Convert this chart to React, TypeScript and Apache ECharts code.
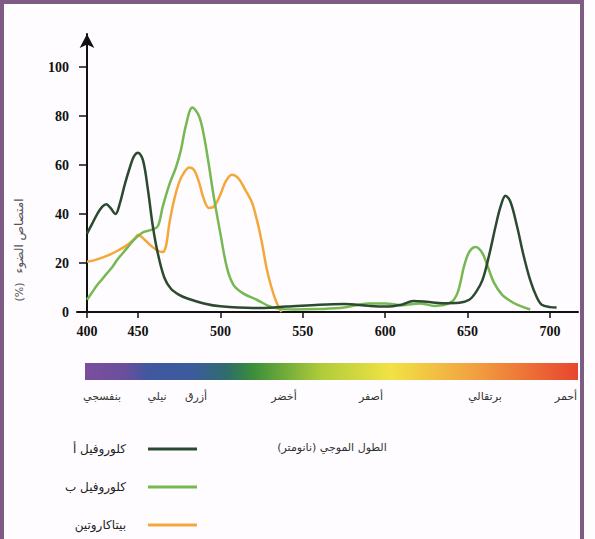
import React, { useEffect, useRef } from "react";
import * as echarts from "echarts";

const seriesNames = ["كلوروفيل أ", "كلوروفيل ب", "بيتاكاروتين"];
const seriesColors = ["#2c4a30", "#76b852", "#f4a73a"];

const chlAWave = [400, 405, 410, 415, 419, 423, 428, 432, 437, 442, 446, 450, 453, 456, 459, 462, 466, 470, 475, 480, 490, 500, 520, 540, 560, 575, 590, 600, 610, 617, 625, 635, 645, 651, 655, 659, 663, 667, 670, 673, 676, 680, 684, 688, 692, 695, 700, 704];
const chlAAbs = [32, 36, 40, 43, 44, 42.5, 40, 44, 52, 59, 63.5, 65, 62, 50, 35, 24, 14, 9.5, 7, 5.5, 3.5, 2.3, 1.6, 2.2, 3, 3.3, 2.5, 2.2, 3, 4.5, 4.2, 3.6, 3.8, 5, 8, 13, 23, 35, 43, 47.5, 45, 35, 23, 13, 6, 3, 2, 1.8];

const chlBWave = [400, 405, 410, 415, 420, 425, 430, 435, 440, 445, 450, 453, 458, 462, 465, 469, 473, 476, 479, 483, 487, 490, 493, 496, 500, 504, 508, 514, 522, 532, 545, 560, 575, 590, 600, 610, 621, 630, 640, 644, 648, 651, 655, 659, 662, 666, 671, 676, 680, 688];
const chlBAbs = [5, 8, 11, 13.5, 16, 18.5, 21.5, 24, 26.5, 29, 31, 32.5, 33.5, 35, 43, 52, 59, 66, 76, 83.5, 80, 72, 60, 47, 32, 18, 11, 7.5, 5, 1.8, 1, 1.2, 1.8, 3.5, 3.5, 2.8, 3.5, 2.5, 4, 8, 19, 24.5, 26.5, 24, 19, 12, 7, 4.5, 3, 1];

const caroWave = [400, 410, 420, 430, 440, 447, 450, 454, 458, 462, 465, 467, 469, 472, 475, 478, 481, 484, 487, 490, 493, 496, 500, 503, 507, 511, 515, 519, 522, 525, 528, 531, 534, 537];
const caroAbs = [20.5, 21.5, 23, 25, 27.5, 30, 31.5, 29.5, 27, 25, 24.5, 27, 36, 46, 53, 57, 59, 58, 53, 46, 42.5, 43, 48, 53, 56, 54.5, 50, 45, 38, 29, 18, 10, 4, 0];

const xTicks = [400, 450, 500, 550, 600, 650, 700];
const yTicks = [0, 20, 40, 60, 80, 100];
const spectrumNames = ["بنفسجي", "نيلي", "أزرق", "أخضر", "أصفر", "برتقالي", "أحمر"];
const yAxisTitleWords = "امتصاص الضوء";
const yAxisTitleUnit = "(%)";
const xAxisTitle = "الطول الموجي (نانومتر)";

// the reference axis compresses the 400-450 segment
const K = 51 / 82.4;
const toU = (w: number) => (w >= 450 ? w : 450 - (450 - w) * K);
const fromU = (u: number) => (u >= 450 ? u : 450 - (450 - u) / K);

const spectrumX = [102, 157, 196, 284, 371, 485, 566];
const legendY = [449, 487, 525];

export default function App() {
  const ref = useRef<HTMLDivElement>(null);
  useEffect(() => {
    if (!ref.current) return;
    const chart = echarts.init(ref.current, null, { renderer: "svg" });
    const waves = [chlAWave, chlBWave, caroWave];
    const abs = [chlAAbs, chlBAbs, caroAbs];
    const order = [2, 1, 0];
    const series = order.map((i) => ({
      type: "line",
      name: seriesNames[i],
      data: waves[i].map((w, j) => [toU(w), abs[i][j]]),
      symbol: "none",
      showSymbol: false,
      smooth: 0.35,
      lineStyle: { width: 2.5, color: seriesColors[i] },
      itemStyle: { color: seriesColors[i] },
      z: 3,
    }));

    const arabicFont = "DejaVu Sans";
    const graphics: any[] = [
      {
        type: "rect",
        shape: { x: 2, y: 2, width: 580, height: 560 },
        style: { fill: "none", stroke: "#7d5b83", lineWidth: 4 },
        z: 100,
      },
      {
        type: "rect",
        shape: { x: 85, y: 363, width: 493, height: 17 },
        style: {
          fill: new echarts.graphic.LinearGradient(0, 0, 1, 0, [
            { offset: 0, color: "#7b4e9e" },
            { offset: 0.08, color: "#6a4f9c" },
            { offset: 0.13, color: "#3f58a0" },
            { offset: 0.22, color: "#3c5b9c" },
            { offset: 0.29, color: "#2f6e6a" },
            { offset: 0.34, color: "#3a8e3a" },
            { offset: 0.48, color: "#b0cc3a" },
            { offset: 0.62, color: "#f2e244" },
            { offset: 0.79, color: "#f2a040" },
            { offset: 1, color: "#e8452e" },
          ]),
        },
      },
      {
        type: "text",
        x: 19,
        y: 236,
        rotation: Math.PI / 2,
        style: {
          text: yAxisTitleWords,
          fontSize: 12,
          fontFamily: arabicFont,
          fill: "#555",
          align: "center",
          verticalAlign: "middle",
        },
      },
      {
        type: "text",
        x: 19,
        y: 292,
        rotation: Math.PI / 2,
        style: {
          text: yAxisTitleUnit,
          fontSize: 11,
          fontFamily: arabicFont,
          fill: "#555",
          align: "center",
          verticalAlign: "middle",
        },
      },
      {
        type: "text",
        x: 332,
        y: 447,
        style: {
          text: xAxisTitle,
          fontSize: 11,
          fontFamily: arabicFont,
          fill: "#333",
          align: "center",
          verticalAlign: "middle",
        },
      },
    ];
    spectrumNames.forEach((n, i) => {
      graphics.push({
        type: "text",
        x: spectrumX[i],
        y: 396,
        style: {
          text: n,
          fontSize: 11,
          fontFamily: arabicFont,
          fill: "#333",
          align: "center",
          verticalAlign: "middle",
        },
      });
    });
    seriesNames.forEach((n, i) => {
      graphics.push({
        type: "text",
        x: 126,
        y: legendY[i],
        style: {
          text: n,
          fontSize: 12,
          fontFamily: arabicFont,
          fill: "#222",
          align: "right",
          verticalAlign: "middle",
        },
      });
      graphics.push({
        type: "line",
        shape: { x1: 148, y1: legendY[i], x2: 197, y2: legendY[i] },
        style: { stroke: seriesColors[i], lineWidth: 3 },
      });
    });

    const uTicks = xTicks.map(toU);
    chart.setOption({
      animation: false,
      backgroundColor: "#fefcfe",
      grid: { left: 77, right: 17, top: 34, bottom: 227, containLabel: false },
      xAxis: {
        type: "value",
        min: toU(400) - 6.07,
        max: 717,
        splitLine: { show: false },
        axisLine: { lineStyle: { color: "#111", width: 2 } },
        axisTick: {
          show: true,
          customValues: uTicks,
          length: 6,
          lineStyle: { color: "#111", width: 1.5 },
        },
        axisLabel: {
          customValues: uTicks,
          formatter: (v: number) => String(Math.round(fromU(v))),
          fontFamily: "Liberation Serif",
          fontWeight: "bold",
          fontSize: 14,
          color: "#111",
          margin: 12,
        },
      },
      yAxis: {
        type: "value",
        min: 0,
        max: 113.5,
        offset: -10,
        splitLine: { show: false },
        axisLine: {
          show: true,
          symbol: ["none", "arrow"],
          symbolSize: [11, 14],
          lineStyle: { color: "#111", width: 2 },
        },
        axisTick: {
          show: true,
          customValues: yTicks,
          length: 8,
          lineStyle: { color: "#111", width: 1.5 },
        },
        axisLabel: {
          customValues: yTicks,
          fontFamily: "Liberation Serif",
          fontWeight: "bold",
          fontSize: 14,
          color: "#111",
          margin: 18,
        },
      },
      series,
      graphic: graphics,
    });
    return () => chart.dispose();
  }, []);
  return (
    <div
      ref={ref}
      style={{ position: "absolute", left: 0, top: 0, width: 595, height: 539 }}
    />
  );
}
